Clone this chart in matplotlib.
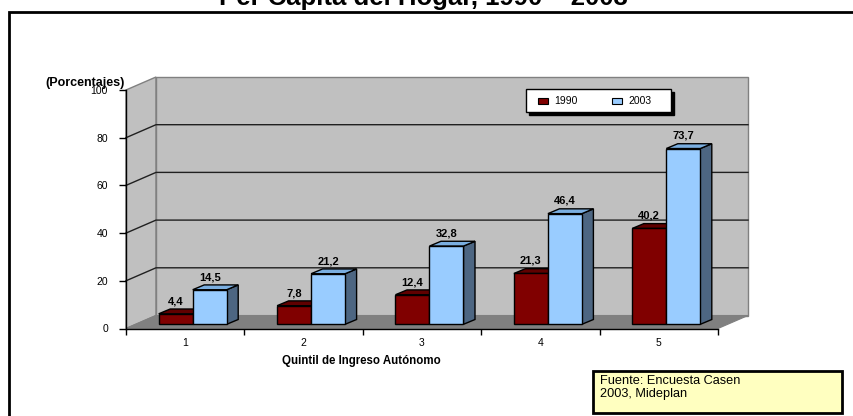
import matplotlib
matplotlib.use("Agg")
import matplotlib.pyplot as plt
from matplotlib.patches import Polygon, Rectangle

plt.rcParams["font.family"] = ["Liberation Sans", "DejaVu Sans"]

# data
quintiles = ["1", "2", "3", "4", "5"]
values_1990 = [4.4, 7.8, 12.4, 21.3, 40.2]
values_2003 = [14.5, 21.2, 32.8, 46.4, 73.7]
series_labels = ["1990", "2003"]
y_ticks = [0, 20, 40, 60, 80, 100]

title = "Per Cápita del Hogar, 1990 – 2003"
x_title = "Quintil de Ingreso Autónomo"
y_title = "(Porcentajes)"
source_text = "Fuente: Encuesta Casen\n2003, Mideplan"

# style
W, H = 854, 416
red_front, red_top, red_side = "#800000", "#600000", "#4a0000"
blue_front, blue_top, blue_side = "#99ccff", "#7aaee0", "#4d6682"
wall_color = "#c0c0c0"
floor_color = "#808080"

fig = plt.figure(figsize=(W / 100, H / 100), dpi=100)


def fx(px):
    return px / W


def fy(py):
    return 1 - py / H


# front plane of the pseudo 3d box
ax = fig.add_axes([fx(126), fy(328.5), fx(718) - fx(126), fy(90) - fy(328.5)])
ax.set_xlim(0.5, 5.5)
ax.set_ylim(0, 100)
ax.patch.set_visible(False)

n = len(quintiles)
# depth offset of the back wall, in data units (30px right, 13px up)
cat_px = (718 - 126) / n
val_px = (328.5 - 90) / 100
depth_x = 30 / cat_px
depth_y = 13 / val_px

# floor
ax.add_patch(Polygon([(0.5, 0), (n + 0.5, 0), (n + 0.5 + depth_x, depth_y), (0.5 + depth_x, depth_y)],
                     closed=True, facecolor=floor_color, edgecolor=floor_color, lw=0.8,
                     zorder=0.5, clip_on=False))
# left wall
ax.add_patch(Polygon([(0.5, 0), (0.5, 100), (0.5 + depth_x, 100 + depth_y), (0.5 + depth_x, depth_y)],
                     closed=True, facecolor=wall_color, edgecolor="#808080", lw=1,
                     zorder=0.4, clip_on=False))
# back wall
ax.add_patch(Rectangle((0.5 + depth_x, depth_y), n, 100, facecolor=wall_color,
                       edgecolor="#808080", lw=1, zorder=0.4, clip_on=False))
for v in y_ticks[1:-1]:
    ax.plot([0.5, 0.5 + depth_x, n + 0.5 + depth_x], [v, v + depth_y, v + depth_y],
            color="#202020", lw=1, zorder=0.6, clip_on=False)

# bars
bar_w = 34 / cat_px
shift_x = 7.5 / cat_px
shift_y = 4.2 / val_px
bar_dx = 11.5 / cat_px
bar_dy = 4.8 / val_px


def draw_bar(x0, value, front, top, side):
    y0 = shift_y
    x0 = x0 + shift_x
    y1 = y0 + value
    x1 = x0 + bar_w
    ax.add_patch(Polygon([(x1, y0), (x1 + bar_dx, y0 + bar_dy), (x1 + bar_dx, y1 + bar_dy), (x1, y1)],
                         closed=True, facecolor=side, edgecolor="black", lw=1, zorder=3, clip_on=False))
    ax.add_patch(Polygon([(x0, y1), (x1, y1), (x1 + bar_dx, y1 + bar_dy), (x0 + bar_dx, y1 + bar_dy)],
                         closed=True, facecolor=top, edgecolor="black", lw=1, zorder=3, clip_on=False))
    ax.add_patch(Rectangle((x0, y0), bar_w, value, facecolor=front, edgecolor="black",
                           lw=1, zorder=3, clip_on=False))
    ax.text(x0 + bar_w / 2, y1 + bar_dy + 1.2, f"{value:.1f}".replace(".", ","),
            ha="center", va="bottom", fontsize=8, fontweight="bold", zorder=5)


for i in range(n):
    c = i + 1
    draw_bar(c - bar_w, values_1990[i], red_front, red_top, red_side)
    draw_bar(c, values_2003[i], blue_front, blue_top, blue_side)

# axes
for s in ["top", "right"]:
    ax.spines[s].set_visible(False)
ax.spines["left"].set_linewidth(1)
ax.spines["bottom"].set_linewidth(1)
ax.set_yticks(y_ticks)
ax.set_yticklabels([str(v) for v in y_ticks], fontsize=7.5)
ax.tick_params(axis="y", length=5, width=1, pad=8)
ax.set_xticks([i + 0.5 for i in range(n + 1)])
ax.set_xticklabels([])
ax.set_xticks(range(1, n + 1), minor=True)
ax.set_xticklabels(quintiles, minor=True, fontsize=7.5)
ax.tick_params(axis="x", which="major", length=4, width=1)
ax.tick_params(axis="x", which="minor", length=0, pad=7)

fig.text(fx(125), fy(83), y_title, ha="right", va="center", fontsize=9, fontweight="bold")
fig.text(fx(361), fy(361), x_title, ha="center", va="center", fontsize=8.3, fontweight="bold")
fig.text(fx(423), fy(5), title, ha="center", va="baseline", fontsize=18.5, fontweight="bold")

# outer frame
fig.add_artist(Rectangle((fx(9.5), -0.1), 1.2, fy(12) + 0.1, transform=fig.transFigure,
                         facecolor="none", edgecolor="black", lw=2))

# legend box
fig.add_artist(Rectangle((fx(529), fy(115)), fx(145), fy(89) - fy(112), transform=fig.transFigure,
                         facecolor="black", edgecolor="black", lw=1, zorder=6))
fig.add_artist(Rectangle((fx(526), fy(112)), fx(145), fy(89) - fy(112), transform=fig.transFigure,
                         facecolor="white", edgecolor="black", lw=1, zorder=7))
for k, (lab, col) in enumerate(zip(series_labels, [red_front, blue_front])):
    lx = 538 + k * 74
    fig.add_artist(Rectangle((fx(lx), fy(104)), fx(10), fy(98) - fy(104), transform=fig.transFigure,
                             facecolor=col, edgecolor="black", lw=0.8, zorder=8))
    fig.text(fx(lx + 16), fy(100.5), lab, ha="left", va="center", fontsize=7.5, zorder=8)

# source box
fig.add_artist(Rectangle((fx(593), fy(413)), fx(249), fy(371) - fy(413), transform=fig.transFigure,
                         facecolor="#ffffc0", edgecolor="black", lw=2, zorder=6))
fig.text(fx(600), fy(374.5), source_text, ha="left", va="top", fontsize=9.2, linespacing=1.15, zorder=7)

fig.savefig("out.png", dpi=100)
